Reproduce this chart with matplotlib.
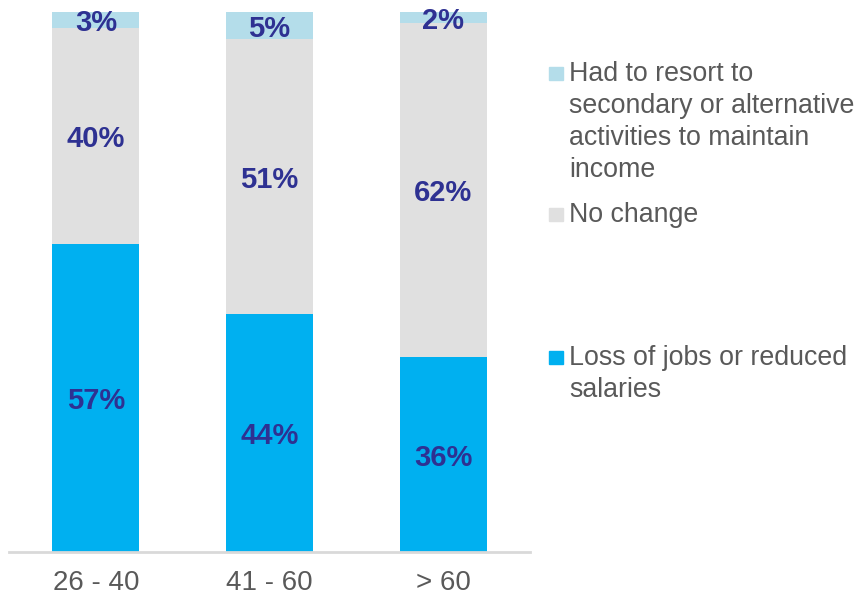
import matplotlib
matplotlib.use("Agg")
import matplotlib.pyplot as plt
from matplotlib.patches import Rectangle

categories = ["26 - 40", "41 - 60", "> 60"]
loss = [57, 44, 36]
no_change = [40, 51, 62]
resort = [3, 5, 2]
legend_labels = [
    "Had to resort to\nsecondary or alternative\nactivities to maintain\nincome",
    "No change",
    "Loss of jobs or reduced\nsalaries",
]

c_loss = "#00B0F0"
c_none = "#E0E0E0"
c_resort = "#B4DDEA"
c_lab = "#2E3192"
c_txt = "#595959"

plt.rcParams['font.family'] = ['Liberation Sans', 'DejaVu Sans']

fig = plt.figure(figsize=(8.6, 5.99), dpi=100)
ax = fig.add_axes([9/860, 1-551.5/599, 521/860, 539.5/599])

x = list(range(len(categories)))
w = 0.5
b1 = ax.bar(x, loss, width=w, color=c_loss, zorder=2)
b2 = ax.bar(x, no_change, width=w, bottom=loss, color=c_none, zorder=2)
bottom3 = [a + b for a, b in zip(loss, no_change)]
b3 = ax.bar(x, resort, width=w, bottom=bottom3, color=c_resort, zorder=2)

for bars, vals, bots in [(b1, loss, [0]*3), (b2, no_change, loss), (b3, resort, bottom3)]:
    for xi, v, bo in zip(x, vals, bots):
        ax.text(xi, bo + v/2 - 0.6, f"{v}%", ha="center", va="center", fontsize=21,
                fontweight="bold", color=c_lab, zorder=3)

ax.set_xlim(-0.5, 2.5)
ax.set_ylim(0, 100)
ax.set_xticks(x)
ax.set_xticklabels(categories, fontsize=20, color=c_txt)
ax.tick_params(axis="x", length=0, pad=13)
ax.set_yticks([])
for s in ["top", "right", "left"]:
    ax.spines[s].set_visible(False)
ax.spines["bottom"].set_color("#D9D9D9")
ax.spines["bottom"].set_linewidth(2)

# legend
leg_items = [(c_resort, legend_labels[0], 73), (c_none, legend_labels[1], 214), (c_loss, legend_labels[2], 357)]
for col, lab, ypx in leg_items:
    fy = 1 - ypx/599
    fig.patches.append(Rectangle((549/860, fy - 7/599), 14/860, 13/599,
                                 transform=fig.transFigure, color=col, figure=fig))
    fig.text(569/860, fy + 12/599, lab, ha="left", va="top", fontsize=19.3,
             color=c_txt, linespacing=1.3)

fig.savefig("out.png", dpi=100)
